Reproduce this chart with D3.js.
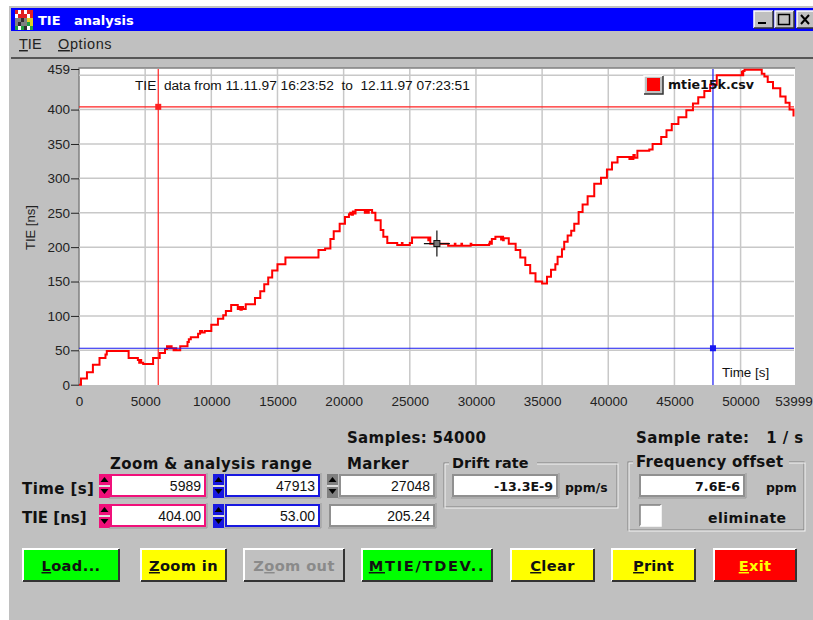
<!DOCTYPE html>
<html>
<head>
<meta charset="utf-8">
<title>TIE analysis</title>
<script src="https://cdn.jsdelivr.net/npm/d3@7"></script>
<style>
html,body{margin:0;padding:0;background:#fff;overflow:hidden}
svg{display:block}
text{white-space:pre}
</style>
</head>
<body>
<div class="canvas"></div>
<script>
//values: stepped TIE curve
var times = [0,150,600,1050,1550,2000,2100,3750,4450,4550,4600,4700,4850,5600,6100,6500,6650,6750,6850,7000,7150,7250,7350,7650,8200,8300,8450,9000,9150,9300,9500,10000,10500,10900,11100,11500,12000,12100,12200,12300,12400,12600,13300,13700,14000,14300,14600,15000,15600,17900,18000,18100,18600,19000,19250,19700,20100,20400,20500,20600,20700,20800,20900,21500,21600,21700,21800,21900,22150,22400,22800,23000,23300,24000,24050,24400,24450,25000,25170,26300,26400,26450,26550,27800,27900,28400,28450,28900,28950,29600,29650,31000,31050,31100,31200,31470,31800,31900,32000,32050,32100,32480,33000,33350,33730,34100,34500,35000,35370,35670,36000,36170,36500,36670,36930,37200,37430,37760,38060,38440,38940,39450,39900,40280,40700,41500,41600,41700,41800,41900,42000,42200,43100,43350,44000,44400,44800,45300,45900,46400,46800,47260,47700,48200,50000,50100,50150,50200,50300,51600,51800,52050,52450,53000,53400,53700,53999];
var ties = [0,9,18,29,39,44,49,39,36,32,36,32,30,39,46,52,56,53,56,53,50,53,50,56,62,66,69,74,78,76,78,87,96,101,107,116,110,113,109,113,110,117,126,136,146,156,166,175,185,185,185,196,198,212,223,234,244,248,250,247,252,249,254,254,250,254,250,254,250,239,225,215,206,206,203,206,203,206,214,214,210,214,205,205,202,205,202,205,202,205,203,205,208,205,212,215,215,211,215,210,213,205,196,185,174,162,150,147,157,167,175,186,197,208,217,224,234,251,262,274,292,301,313,323,331,331,328,331,328,334,330,340,342,350,360,370,379,389,399,409,418,427,436,450,450,455,450,456,458,452,448,440,431,419,410,400,390];

var xTicks = [0,5000,10000,15000,20000,25000,30000,35000,40000,45000,50000,53999];
var yTicks = [0,50,100,150,200,250,300,350,400,459];
var xGrid = [5000,10000,15000,20000,25000,30000,35000,40000,45000,50000];
var yGrid = [50,100,150,200,250,300,350,400,450];

var rangeTime = [5989,47913];
var rangeTie = [404,53];
var markerTime = 27048;
var markerTie = 205.24;

var W = 813, H = 620;
var SANS = '"Liberation Sans",Arial,sans-serif';
var BOLD = '"DejaVu Sans",Verdana,sans-serif';

var svg = d3.select('.canvas').append('svg').attr('width',W).attr('height',H);

//window
svg.append('rect').attr('x',9).attr('y',6).attr('width',W-9).attr('height',H-6).attr('fill','#c0c0c0');
svg.append('rect').attr('x',11).attr('y',8).attr('width',W-11).attr('height',23).attr('fill','#0000ff');
svg.append('line').attr('x1',11).attr('x2',W).attr('y1',58).attr('y2',58).attr('stroke','#333').attr('stroke-width',1.5);

function label(x,y,txt,o){
    o = o || {};
    return svg.append('text').attr('x',x).attr('y',y).text(txt)
        .attr('font-family',o.family||BOLD)
        .attr('font-size',o.size||14)
        .attr('font-weight',o.weight||'bold')
        .attr('letter-spacing',o.ls||0)
        .attr('text-anchor',o.anchor||'start')
        .attr('fill',o.fill||'#111');
}

//bevelled box, raised or sunken
function bevel(x,y,w,h,fill,sunken,lw){
    lw = lw || 2;
    var light = sunken ? '#808080' : '#fff', dark = sunken ? '#fff' : '#333';
    svg.append('rect').attr('x',x).attr('y',y).attr('width',w).attr('height',h).attr('fill',fill);
    svg.append('path').attr('d','M'+x+','+(y+h)+'V'+y+'H'+(x+w)).attr('fill','none').attr('stroke',light).attr('stroke-width',lw);
    svg.append('path').attr('d','M'+(x+w)+','+y+'V'+(y+h)+'H'+x).attr('fill','none').attr('stroke',dark).attr('stroke-width',lw);
}

//title bar
var iconColors = ['#e02020','#ffffff','#808080','#20a040','#e0d020','#303030'];
var iconCells = [0,1,0,1,0,0,1,0,0,0,1,0,2,2,5,2,4,4,2,5,2,2,3,4,3,1,3,5,1,3];
svg.append('g').selectAll('rect').data(iconCells).enter().append('rect')
    .attr('x',function(d,i){ return 15 + (i%6)*3; })
    .attr('y',function(d,i){ return 10 + Math.floor(i/6)*4; })
    .attr('width',3).attr('height',4)
    .attr('fill',function(d){ return iconColors[d]; });
label(38,25,'TIE',{size:13,fill:'#fff'});
label(74,25,'analysis',{size:13,fill:'#fff'});

bevel(754,11,19,17,'#c0c0c0',false,1.5);
svg.append('rect').attr('x',758).attr('y',22).attr('width',8).attr('height',2).attr('fill','#000');
bevel(775,11,19,17,'#c0c0c0',false,1.5);
svg.append('rect').attr('x',778.5).attr('y',14.5).attr('width',11).attr('height',10).attr('fill','none').attr('stroke','#000').attr('stroke-width',1.5);
bevel(797,11,18,17,'#c0c0c0',false,1.5);
svg.append('path').attr('d','M801,15L809,24M809,15L801,24').attr('stroke','#000').attr('stroke-width',2);

//menu
var menu = svg.append('g').attr('font-family',SANS).attr('font-size',14.5).attr('fill','#222');
var m1 = menu.append('text').attr('x',19).attr('y',49);
m1.append('tspan').attr('text-decoration','underline').text('T');
m1.append('tspan').text('IE');
var m2 = menu.append('text').attr('x',58).attr('y',49).attr('letter-spacing',0.6);
m2.append('tspan').attr('text-decoration','underline').text('O');
m2.append('tspan').text('ptions');

//plot
var margin = {t:69,r:19,b:235,l:79};
var width = W - margin.l - margin.r,
    height = H - margin.t - margin.b;

var x = d3.scaleLinear().domain([0,53999]).range([0,width-0.5]);
var y = d3.scaleLinear().domain([0,459]).range([height-0.3,0]);

var canvas = svg.append('g')
    .attr('transform','translate('+margin.l+','+margin.t+')');

canvas.append('rect').attr('x',0).attr('y',-1).attr('width',width+1).attr('height',height+1).attr('fill','#fff');
canvas.append('path').attr('d','M0,'+height+'V-1H'+(width+1)).attr('fill','none').attr('stroke','#808080').attr('stroke-width',1.5);

canvas.append('g').selectAll('line').data(xGrid).enter().append('line')
    .attr('x1',function(d){ return x(d); })
    .attr('x2',function(d){ return x(d); })
    .attr('y1',0).attr('y2',height)
    .attr('stroke','#c8c8c8').attr('stroke-width',1.5);
canvas.append('g').selectAll('line').data(yGrid).enter().append('line')
    .attr('y1',function(d){ return y(d); })
    .attr('y2',function(d){ return y(d); })
    .attr('x1',0).attr('x2',width)
    .attr('stroke','#c8c8c8').attr('stroke-width',1.5);

var yAxis = canvas.append('g')
    .call(d3.axisLeft(y).tickValues(yTicks).tickFormat(d3.format('d')).tickSize(8).tickPadding(1));
var xAxis = canvas.append('g')
    .attr('transform','translate(0,'+height+')')
    .call(d3.axisBottom(x).tickValues(xTicks).tickFormat(d3.format('d')).tickSize(0).tickPadding(11));
[yAxis,xAxis].forEach(function(a){
    a.select('.domain').remove();
    a.selectAll('text').attr('font-family',SANS).attr('font-size',13.5).attr('fill','#222');
    a.selectAll('line').attr('stroke','#222');
});

//annotation and legend
label(135,90,'TIE  data from 11.11.97 16:23:52  to  12.11.97 07:23:51',{family:SANS,size:13.7,weight:'normal'});
bevel(644,76,19,18,'#c0c0c0',false,1.5);
svg.append('rect').attr('x',647).attr('y',78).attr('width',13).attr('height',13).attr('fill','#ff0000');
label(668,89,'mtie15k.csv',{size:12.6});
label(722,377,'Time [s]',{family:SANS,size:13.4,weight:'normal'});
svg.append('text').attr('transform','translate(35,250) rotate(-90)').text('TIE [ns]')
    .attr('font-family',SANS).attr('font-size',13).attr('fill','#222');

//curve
var curve = d3.line()
    .x(function(d){ return x(d); })
    .y(function(d,i){ return y(ties[i]); })
    .curve(d3.curveStepAfter);
canvas.append('path').attr('d',curve(times))
    .attr('fill','none').attr('stroke','#ff0000').attr('stroke-width',2);

//range cursors
function cursor(tx,ty,color){
    canvas.append('line').attr('x1',x(tx)).attr('x2',x(tx)).attr('y1',0).attr('y2',height).attr('stroke',color).attr('stroke-width',1.2);
    canvas.append('line').attr('x1',0).attr('x2',width).attr('y1',y(ty)).attr('y2',y(ty)).attr('stroke',color).attr('stroke-width',1.2);
    canvas.append('rect').attr('x',x(tx)-3).attr('y',y(ty)-3).attr('width',6).attr('height',6).attr('fill',color);
}
cursor(rangeTime[0],rangeTie[0],'#ff2020');
cursor(rangeTime[1],rangeTie[1],'#1818f0');

//marker
var mx = x(markerTime), my = y(markerTie);
canvas.append('path')
    .attr('d','M'+(mx-13)+','+my+'H'+(mx-3)+'M'+(mx+3)+','+my+'H'+(mx+13)+'M'+mx+','+(my-13)+'V'+(my-3)+'M'+mx+','+(my+3)+'V'+(my+13))
    .attr('stroke','#111').attr('stroke-width',1.2);
canvas.append('rect').attr('x',mx-3).attr('y',my-3).attr('width',6).attr('height',6)
    .attr('fill','#777').attr('stroke','#111').attr('stroke-width',1);

//info labels
label(347,443,'Samples: 54000',{size:15,ls:0.3});
label(636,443,'Sample rate:   1 / s',{size:15,ls:0.4});
label(110,469,'Zoom & analysis range',{size:15,ls:0.4});
label(347,469,'Marker',{size:15,ls:0.4});
label(22,494,'Time [s]',{size:15,ls:0.4});
label(22,523,'TIE [ns]',{size:15});

//spinner and field
function spinner(x0,y0,color){
    svg.append('rect').attr('x',x0).attr('y',y0).attr('width',11).attr('height',24).attr('fill',color);
    svg.append('rect').attr('x',x0).attr('y',y0+11).attr('width',11).attr('height',2).attr('fill','#ddd');
    svg.append('path').attr('d','M'+(x0+1.5)+','+(y0+8)+'h8l-4,-5z').attr('fill','#000');
    svg.append('path').attr('d','M'+(x0+1.5)+','+(y0+15)+'h8l-4,5z').attr('fill','#000');
}
function field(x0,y0,w,h,txt,color,o){
    svg.append('rect').attr('x',x0).attr('y',y0).attr('width',w).attr('height',h).attr('fill','#fff')
        .attr('stroke',color).attr('stroke-width',2);
    svg.append('path').attr('d','M'+(x0-2)+','+(y0+h+2)+'H'+(x0+w+2)+'V'+(y0-2)).attr('fill','none').attr('stroke','#999').attr('stroke-width',1);
    o = o || {};
    label(x0+w-4,y0+h-5,txt,{family:o.family||SANS,size:o.size||14,weight:o.weight||'normal',anchor:'end'});
}
var PINK = '#f0107a', BLUE = '#1818e0', GREY = '#909090';
spinner(99,474,PINK); field(111,475,94,21,'5989',PINK);
spinner(213,474,BLUE); field(226,475,93,21,'47913',BLUE);
spinner(327,474,'#808080'); field(340,475,94,21,'27048',GREY);
spinner(99,504,PINK); field(111,505,94,21,'404.00',PINK);
spinner(213,504,BLUE); field(226,505,93,21,'53.00',BLUE);
field(330,505,104,21,'205.24',GREY);

//group boxes
function groupBox(x0,y0,w,h,txt,tw,size,ls){
    svg.append('rect').attr('x',x0).attr('y',y0).attr('width',w).attr('height',h).attr('fill','none').attr('stroke','#808080').attr('stroke-width',1);
    svg.append('rect').attr('x',x0+1).attr('y',y0+1).attr('width',w).attr('height',h).attr('fill','none').attr('stroke','#f4f4f4').attr('stroke-width',1);
    svg.append('rect').attr('x',x0+5).attr('y',y0-8).attr('width',tw).attr('height',14).attr('fill','#c0c0c0');
    label(x0+8,y0+5,txt,{size:size,ls:ls});
}
groupBox(444,463,173,44,'Drift rate',88,14.4,0.1);
groupBox(628,462,176,68,'Frequency offset',156,15,0.3);
field(453,475,104,21,'-13.3E-9',GREY,{family:BOLD,weight:'bold',size:12.6});
label(565,492,'ppm/s',{size:12.4});
field(640,475,104,21,'7.6E-6',GREY,{family:BOLD,weight:'bold',size:12.6});
label(766,492,'ppm',{size:12.4});
bevel(640,505,21,21,'#fff',true,1.5);
label(708,523,'eliminate',{size:14,ls:0.5});

//buttons
var buttonLabels = ['Load...','Zoom in','Zoom out','MTIE/TDEV..','Clear','Print','Exit'];
var buttonHot = [0,0,1,0,0,0,0];
var buttonX = [23,141,244,362,511,612,714];
var buttonW = [96,85,100,130,83,83,82];
var buttonFill = ['#00ff00','#ffff00','#c0c0c0','#00ff00','#ffff00','#ffff00','#ff0000'];
var buttonText = ['#111','#111','#8a8a8a','#111','#111','#111','#ffff00'];
var buttonSpacing = [0.4,0.4,0.4,1.7,0.4,0.1,0.3];
buttonLabels.forEach(function(b,i){
    bevel(buttonX[i],549,buttonW[i],32,buttonFill[i],false,2);
    var t = svg.append('text').attr('x',buttonX[i]+buttonW[i]/2).attr('y',571)
        .attr('text-anchor','middle').attr('font-family',BOLD).attr('font-size',14.6)
        .attr('letter-spacing',buttonSpacing[i])
        .attr('font-weight','bold').attr('fill',buttonText[i]);
    var h = buttonHot[i];
    if(h>0){ t.append('tspan').text(b.slice(0,h)); }
    t.append('tspan').attr('text-decoration','underline').text(b.charAt(h));
    t.append('tspan').text(b.slice(h+1));
});
</script>
</body>
</html>
